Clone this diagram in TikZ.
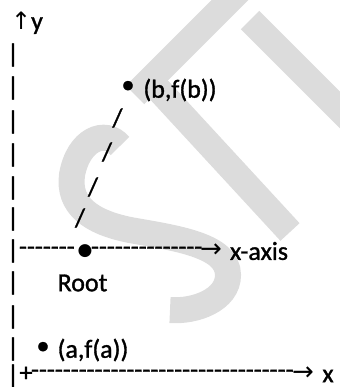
\documentclass[tikz,border=0pt]{standalone}
\usepackage{fontspec}
\newfontfamily\calfont[Ligatures=TeXOff,FakeBold=1.2]{Carlito}
\newfontfamily\symfont{DejaVu Sans}
\definecolor{wm}{RGB}{220,220,220}
\begin{document}
\begin{tikzpicture}[x=1pt,y=-1pt,
  txt/.style={inner sep=0pt, outer sep=0pt, font=\calfont\fontsize{26}{30}\selectfont},
  bar/.style={inner sep=0pt, outer sep=0pt, font=\calfont\fontsize{26}{30}\selectfont},
  sym/.style={inner sep=0pt, outer sep=0pt, font=\symfont\fontsize{26}{30}\selectfont},
  bigdot/.style={inner sep=0pt, outer sep=0pt, font=\symfont\fontsize{17}{20}\selectfont},
  mark stroke/.style={wm, line width=26pt}]
\useasboundingbox (0,0) rectangle (339,387);
% watermark
\draw[mark stroke] (120,146) .. controls (105,128) and (78,140) .. (72,175)
  .. controls (68,205) and (90,222) .. (130,230)
  .. controls (175,238) and (228,245) .. (228,275)
  .. controls (228,300) and (195,312) .. (170,310);
\draw[mark stroke] (148,78) -- (290,232);
\draw[mark stroke] (135,95) -- (250,-20);
\draw[mark stroke] (250,20) -- (350,120);
% y axis label
\node[txt] (ylab) at (27,23) {{\symfont\fontsize{24}{28}\selectfont ↑}y};
% left bars
\foreach \i/\yy in {1/55,2/88,3/122,4/155,5/188,6/219,7/251,8/283,9/317,10/349,11/376}
  \node[bar] (p\i) at (13,\yy) {|};
% point b
\node[txt] (bdot) at (128,87) {•};
\node[txt] (blab) at (180,90) {(b,f(b))};
% slashes
\node[txt] (s1) at (117.5,118) {/};
\node[txt] (s2) at (107,152) {/};
\node[txt] (s3) at (93,187) {/};
\node[txt] (s4) at (80,218) {/};
% x-axis line
\node[txt, anchor=west] (d1) at (19,251) {-------};
\node[bigdot] (root) at (85,251) {●};
\node[txt, anchor=west] (d2) at (91,251) {--------------};
\node[sym] (arr1) at (211,251) {→};
\node[txt] (xaxis) at (259,251) {x-axis};
\node[txt] (rootlab) at (82.5,283) {Root};
% point a
\node[txt] (adot) at (43,348) {•};
\node[txt] (alab) at (93,350) {(a,f(a))};
% bottom axis
\node[txt] (plus) at (26,374) {+};
\node[txt, anchor=west] (d3) at (31,374) {---------------------------------};
\node[sym] (arr2) at (303,374) {→};
\node[txt] (xlab) at (328,376) {x};
\end{tikzpicture}
\end{document}
